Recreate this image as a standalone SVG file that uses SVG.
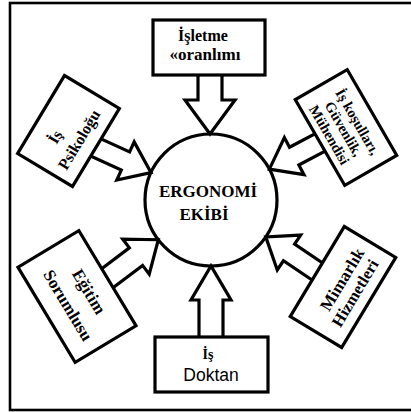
<svg xmlns="http://www.w3.org/2000/svg" width="411" height="412" viewBox="0 0 411 412">
<style>
.frame{fill:#fff;stroke:#000;stroke-width:2.6}
.box{fill:#fff;stroke:#000;stroke-width:3.2;stroke-linejoin:miter}
.arrow{fill:#fff;stroke:#000;stroke-width:3.2;stroke-linejoin:miter}
.hub{fill:none;stroke:#000;stroke-width:3.2}
.t{font-family:"Liberation Serif","DejaVu Serif",serif;font-weight:bold;fill:#000;text-anchor:middle}
.s{font-family:"Liberation Sans",Arial,sans-serif;fill:#000;text-anchor:middle}
</style>
<rect class="frame" x="10" y="3" width="420" height="407"/>
<g id="connectors">
  <polygon class="arrow" points="198,70 222,70 222,100 235,100 210,134 185,100 198,100"/>
  <polygon class="arrow" points="199,342 223,342 223,300 231,300 211,266 191,300 199,300"/>
  <g transform="translate(95.9,147.5) rotate(24.5)"><polygon class="arrow" points="-8,-10 32.5,-10 32.5,-21 60.5,0 32.5,21 32.5,10 -8,10"/></g>
  <g transform="translate(320,142.5) rotate(152.2)"><polygon class="arrow" points="-8,-10 29.2,-10 29.2,-21 57.2,0 29.2,21 29.2,10 -8,10"/></g>
  <g transform="translate(107.4,278.2) rotate(-37.05)"><polygon class="arrow" points="-8,-11 35.8,-11 35.8,-22 63.8,0 35.8,22 35.8,11 -8,11"/></g>
  <g transform="translate(317.3,271.5) rotate(213.9)"><polygon class="arrow" points="-8,-10 34.1,-10 34.1,-21 62.1,0 34.1,21 34.1,10 -8,10"/></g>
</g>
<g id="hub">
  <circle class="hub" cx="211" cy="200" r="66"/>
  <text class="t" x="208" y="197" font-size="17">ERGONOMİ</text>
  <text class="t" x="204" y="220" font-size="17">EKİBİ</text>
</g>
<g id="isletme">
  <rect class="box" x="153" y="20" width="112" height="55"/>
  <text class="t" x="203" y="41" font-size="16">İşletme</text>
  <text class="t" x="205" y="60" font-size="17" font-weight="normal">«oranlımı</text>
</g>
<g id="psikologu" transform="translate(68.5,131) rotate(-59)">
  <rect class="box" x="-45.5" y="-32" width="91" height="64"/>
  <text class="t" x="-12" y="-3" font-size="16">İş</text>
  <text class="t" x="-2" y="19" font-size="16">Psikoloğu</text>
</g>
<g id="kosullar" transform="translate(346,127.5) rotate(60)">
  <rect class="box" x="-49.5" y="-30" width="99" height="60"/>
  <text class="t" x="1" y="-8" font-size="14.5">İş koşulları,</text>
  <text class="t" x="0" y="7.5" font-size="14.5">Güvenlik,</text>
  <text class="t" x="-2" y="23" font-size="14.5">Mühendisi</text>
</g>
<g id="egitim" transform="translate(77,296.5) rotate(59)">
  <rect class="box" x="-55.5" y="-35.5" width="111" height="71"/>
  <text class="t" x="2" y="-7" font-size="17">Eğitim</text>
  <text class="t" x="3" y="18" font-size="17">Sorumlusu</text>
</g>
<g id="mimarlik" transform="translate(343,287) rotate(-59)">
  <rect class="box" x="-52.5" y="-30" width="105" height="60"/>
  <text class="t" x="6" y="1" font-size="17">Mimarlık</text>
  <text class="t" x="1" y="19" font-size="16.5">Hizmetleri</text>
</g>
<g id="doktor">
  <rect class="box" x="155" y="337" width="113" height="55"/>
  <text class="t" x="208" y="359" font-size="14">İş</text>
  <text class="s" x="211" y="381" font-size="17.5">Doktan</text>
</g>
</svg>
